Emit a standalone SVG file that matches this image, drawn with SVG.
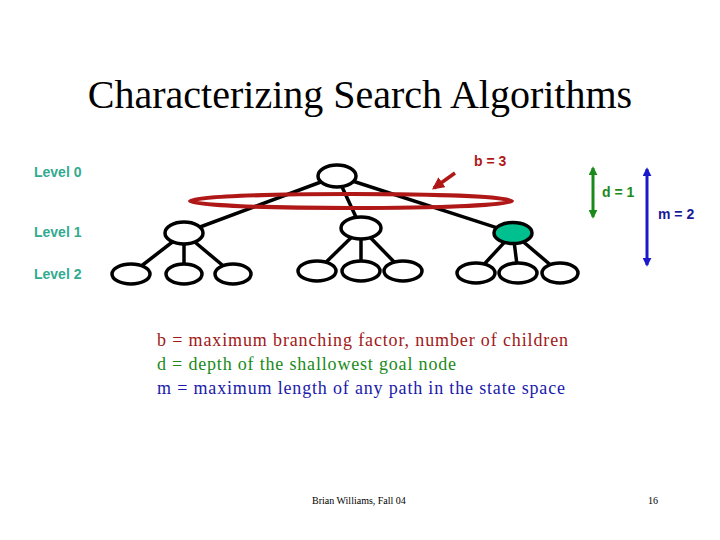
<svg xmlns="http://www.w3.org/2000/svg" width="720" height="540" viewBox="0 0 720 540">
<defs>
<style>
.n{fill:#fff;stroke:#000;stroke-width:3.5}
.e{stroke:#000;stroke-width:3.5;fill:none}
.lvl{font-family:"Liberation Sans",Arial,sans-serif;font-weight:bold;font-size:14px;fill:#33aa90}
.def{font-family:"Liberation Serif","Times New Roman",serif;font-size:18px}
</style>
<marker id="ag" viewBox="0 0 10 10" refX="8" refY="5" markerWidth="3" markerHeight="3" orient="auto-start-reverse"><path d="M0,0L10,5L0,10z" fill="#1a8a1a"/></marker>
<marker id="ab" viewBox="0 0 10 10" refX="8" refY="5" markerWidth="3" markerHeight="3" orient="auto-start-reverse"><path d="M0,0L10,5L0,10z" fill="#1a1acc"/></marker>
<marker id="arr" viewBox="0 0 10 10" refX="8" refY="5" markerWidth="3.5" markerHeight="3.5" orient="auto"><path d="M0,0L10,5L0,10z" fill="#b01818"/></marker>
</defs>
<rect width="720" height="540" fill="#fff"/>
<text x="360" y="108" text-anchor="middle" font-family="'Liberation Serif','Times New Roman',serif" font-size="40" fill="#000">Characterizing Search Algorithms</text>
<text class="lvl" x="34" y="177">Level 0</text>
<text class="lvl" x="34" y="237">Level 1</text>
<text class="lvl" x="34" y="279">Level 2</text>
<g id="connectors">
<line class="e" x1="337" y1="176" x2="184" y2="233"/>
<line class="e" x1="337" y1="176" x2="361" y2="228"/>
<line class="e" x1="337" y1="176" x2="513" y2="233"/>
<line class="e" x1="184" y1="233" x2="131" y2="274"/>
<line class="e" x1="184" y1="233" x2="184" y2="274"/>
<line class="e" x1="184" y1="233" x2="233" y2="274"/>
<line class="e" x1="361" y1="228" x2="317" y2="271"/>
<line class="e" x1="361" y1="228" x2="361" y2="271"/>
<line class="e" x1="361" y1="228" x2="403" y2="271"/>
<line class="e" x1="513" y1="233" x2="476" y2="273"/>
<line class="e" x1="513" y1="233" x2="518" y2="273"/>
<line class="e" x1="513" y1="233" x2="560" y2="273"/>
</g>
<g id="ring"><ellipse cx="351" cy="201" rx="161" ry="7" fill="none" stroke="#b01818" stroke-width="4"/></g>
<g id="root"><ellipse class="n" cx="337" cy="176" rx="19" ry="11"/></g>
<g id="n1a"><ellipse class="n" cx="184" cy="233" rx="19" ry="11"/></g>
<g id="n1b"><ellipse class="n" cx="361" cy="228" rx="20" ry="11"/></g>
<g id="n1c"><ellipse cx="513" cy="233" rx="19" ry="10.5" fill="#00c090" stroke="#000" stroke-width="3.5"/></g>
<g id="n2a"><ellipse class="n" cx="131" cy="274" rx="19" ry="10"/></g>
<g id="n2b"><ellipse class="n" cx="184" cy="274" rx="18" ry="10"/></g>
<g id="n2c"><ellipse class="n" cx="233" cy="274" rx="18" ry="10"/></g>
<g id="n2d"><ellipse class="n" cx="317" cy="271" rx="19" ry="10"/></g>
<g id="n2e"><ellipse class="n" cx="361" cy="271" rx="19" ry="10"/></g>
<g id="n2f"><ellipse class="n" cx="403" cy="271" rx="19" ry="10"/></g>
<g id="n2g"><ellipse class="n" cx="476" cy="273" rx="19" ry="10"/></g>
<g id="n2h"><ellipse class="n" cx="518" cy="273" rx="19" ry="10"/></g>
<g id="n2i"><ellipse class="n" cx="560" cy="273" rx="18" ry="10"/></g>
<line x1="455" y1="173" x2="434" y2="188" stroke="#b01818" stroke-width="3.5" marker-end="url(#arr)"/>
<text x="474" y="166" font-family="'Liberation Sans',Arial,sans-serif" font-weight="bold" font-size="14" fill="#b01818">b = 3</text>
<line x1="593" y1="168" x2="593" y2="217" stroke="#1a8a1a" stroke-width="3" marker-start="url(#ag)" marker-end="url(#ag)"/>
<text x="602" y="197" font-family="'Liberation Sans',Arial,sans-serif" font-weight="bold" font-size="14" fill="#1a8a1a">d = 1</text>
<line x1="647" y1="169" x2="647" y2="265" stroke="#1a1acc" stroke-width="3" marker-start="url(#ab)" marker-end="url(#ab)"/>
<text x="658" y="219" font-family="'Liberation Sans',Arial,sans-serif" font-weight="bold" font-size="14" fill="#1a1a99">m = 2</text>
<text class="def" x="157" y="346" fill="#a01818" textLength="411" lengthAdjust="spacing">b = maximum branching factor, number of children</text>
<text class="def" x="157" y="370" fill="#1a8a1a" textLength="299" lengthAdjust="spacing">d = depth of the shallowest goal node</text>
<text class="def" x="157" y="394" fill="#1a1aaa" textLength="408" lengthAdjust="spacing">m = maximum length of any path in the state space</text>
<text x="312" y="504" font-family="'Liberation Serif','Times New Roman',serif" font-size="10" fill="#000">Brian Williams, Fall 04</text>
<text x="648" y="504" font-family="'Liberation Serif','Times New Roman',serif" font-size="10" fill="#000">16</text>
</svg>
